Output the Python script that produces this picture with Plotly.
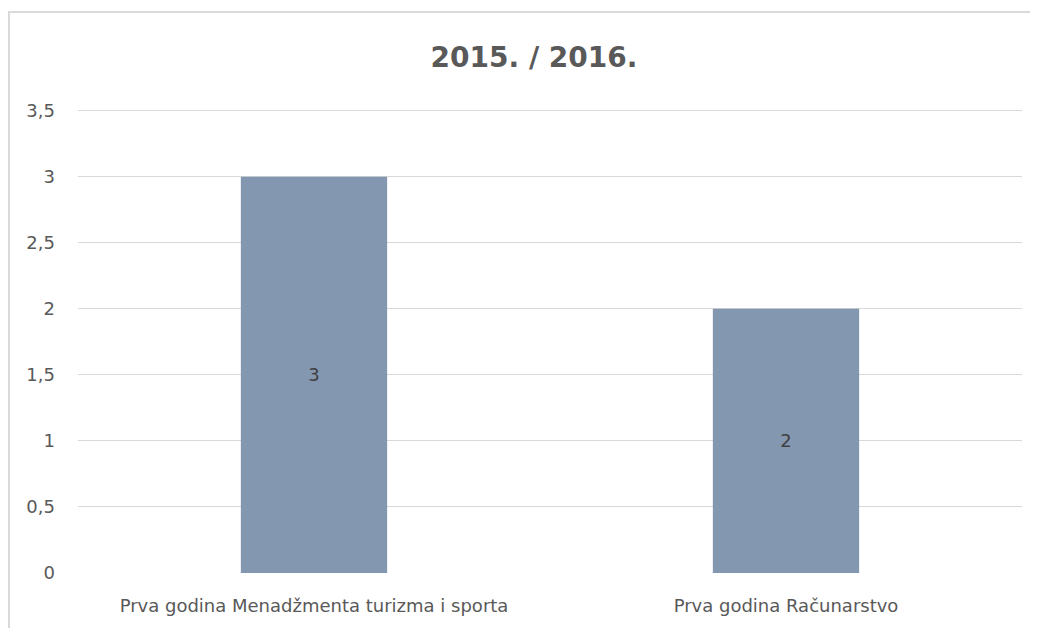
import plotly.graph_objects as go

categories = ["Prva godina Menadžmenta turizma i sporta", "Prva godina Računarstvo"]
values = [3, 2]
tick_vals = [0, 0.5, 1, 1.5, 2, 2.5, 3, 3.5]
tick_text = ["0", "0,5", "1", "1,5", "2", "2,5", "3", "3,5"]
title_text = "2015. / 2016."

FONT = "DejaVu Sans"
GREY = "#595959"

fig = go.Figure()
fig.add_trace(go.Bar(
    x=categories, y=values,
    marker=dict(color="#8497b0", line=dict(width=0)),
    text=[str(v) for v in values],
    textposition="inside", insidetextanchor="middle",
    textfont=dict(family=FONT, size=18, color="#404040"),
    hoverinfo="skip",
))

# page body adds an 8px offset; coordinates below are in figure pixels
OFF = 8
W, H = 1038, 628
Y_TOP = 3.55
px_per_unit = (573 - 111) / 3.5
L = 78 - OFF
R = W - (1022 - OFF)
B = H - (573 - OFF)
T = round((111 - OFF) - (Y_TOP - 3.5) * px_per_unit)
pw, ph = W - L - R, H - T - B

def px_x(x):
    return (x - OFF - L) / pw

def px_y(y):
    return (H - B - (y - OFF)) / ph

fig.update_layout(
    width=W, height=H,
    margin=dict(l=L, r=R, t=T, b=B, pad=0),
    paper_bgcolor="white", plot_bgcolor="white",
    showlegend=False,
    bargap=0.69,
    title=dict(text="<b>" + title_text + "</b>", x=px_x(534), xref="paper", xanchor="center",
               y=1 - (57 - OFF) / H, yanchor="middle",
               font=dict(family=FONT, size=28, color=GREY)),
    xaxis=dict(showgrid=False, showline=False, ticks="", zeroline=False,
               tickfont=dict(family=FONT, size=18, color=GREY), ticklabelstandoff=20),
    yaxis=dict(range=[0, Y_TOP], tickvals=tick_vals, ticktext=tick_text,
               showgrid=True, gridcolor="#d9d9d9", gridwidth=1, zeroline=False,
               showline=False, ticks="", ticklabelstandoff=22,
               tickfont=dict(family=FONT, size=18, color=GREY)),
    shapes=[
        dict(type="line", xref="paper", yref="paper", x0=px_x(8), x1=px_x(1060),
             y0=px_y(12), y1=px_y(12), line=dict(color="#d9d9d9", width=2), layer="below"),
        dict(type="line", xref="paper", yref="paper", x0=px_x(9), x1=px_x(9),
             y0=px_y(12), y1=px_y(660), line=dict(color="#d9d9d9", width=2), layer="below"),
    ],
)
fig.write_html("out.html")
